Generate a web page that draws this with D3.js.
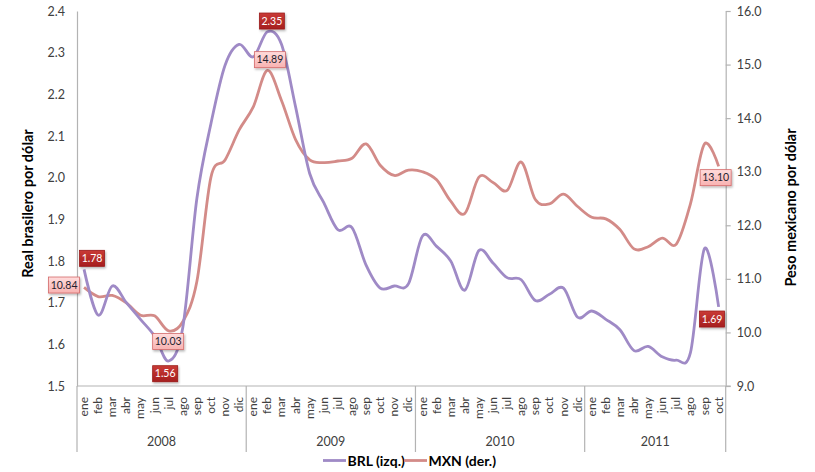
<!DOCTYPE html>
<html><head><meta charset="utf-8">
<script src="https://cdn.jsdelivr.net/npm/d3@7"></script>
<style>
html,body{margin:0;padding:0;background:#fff;}
svg{display:block;font-family:Lato, "Open Sans", sans-serif;}
</style></head>
<body>
<svg id="c" width="815" height="472"></svg>
<script>
// ---- data ----
const months = ["ene","feb","mar","abr","may","jun","jul","ago","sep","oct","nov","dic"];
const years = ["2008","2009","2010","2011"];
const monthsPerYear = [12,12,12,10];
const brl = [
  1.78,1.67,1.74,1.70,1.66,1.62,1.56,1.64,1.95,2.13,2.27,2.32,
  2.29,2.35,2.32,2.17,2.01,1.94,1.875,1.88,1.79,1.735,1.74,1.745,
  1.86,1.835,1.80,1.73,1.825,1.795,1.76,1.755,1.705,1.72,1.735,1.665,
  1.68,1.66,1.635,1.585,1.595,1.57,1.562,1.58,1.83,1.69
];
const mxn = [
  10.84,10.67,10.69,10.55,10.32,10.31,10.03,10.20,10.95,12.90,13.22,13.78,
  14.21,14.89,14.33,13.60,13.22,13.17,13.20,13.25,13.52,13.12,12.93,13.03,
  13.00,12.85,12.45,12.22,12.90,12.80,12.65,13.18,12.48,12.40,12.58,12.35,
  12.15,12.12,11.92,11.56,11.60,11.76,11.65,12.40,13.52,13.10
];
const leftTicks = [1.5,1.6,1.7,1.8,1.9,2.0,2.1,2.2,2.3,2.4];
const rightTicks = [9,10,11,12,13,14,15,16];
const seriesNames = ["BRL (izq.)","MXN (der.)"];
const leftTitle = "Real brasilero por dólar";
const rightTitle = "Peso mexicano por dólar";

// ---- build ----
const cats = [];
years.forEach((y,yi)=>{ for(let m=0;m<monthsPerYear[yi];m++) cats.push({year:y, month:months[m]}); });
const idx = d3.range(cats.length);

const L=77, R=725.7, T=11, B=386;
const svg = d3.select("#c");
const x = d3.scaleBand().domain(idx).range([L,R]).padding(0);
const bw = x.bandwidth();
const cx = i => x(i)+bw/2;
const yL = d3.scaleLinear().domain([1.5,2.4]).range([B,T]);
const yR = d3.scaleLinear().domain([9,16]).range([B,T]);

const axisCol = "#b3b3b3", textCol = "#404040";
const purple = "#9f8ac6", pink = "#d38b88";

// left axis
const gL = svg.append("g").attr("transform",`translate(${L},0)`)
  .call(d3.axisLeft(yL).tickValues(leftTicks).tickFormat(d3.format(".1f")).tickSize(0).tickPadding(12));
gL.select(".domain").attr("stroke",axisCol).attr("stroke-width",1.2);
gL.selectAll("text").attr("fill",textCol).style("font-size","12.5px").style("font-family","Lato, sans-serif");

// right axis
const gR = svg.append("g").attr("transform",`translate(${R},0)`)
  .call(d3.axisRight(yR).tickValues(rightTicks).tickFormat(d3.format(".1f")).tickSize(5).tickSizeOuter(0).tickPadding(6));
gR.select(".domain").attr("stroke",axisCol).attr("stroke-width",1.2);
gR.selectAll(".tick line").attr("stroke",axisCol).attr("stroke-width",1.2);
gR.selectAll("text").attr("fill",textCol).style("font-size","12.5px").style("font-family","Lato, sans-serif");

// category axis
const gX = svg.append("g");
gX.append("line").attr("x1",L).attr("x2",R+5).attr("y1",B).attr("y2",B).attr("stroke",axisCol).attr("stroke-width",1.2);
gX.selectAll("text.m").data(idx).join("text").attr("class","m")
  .attr("transform",i=>`translate(${cx(i)+4},${B+11}) rotate(-90)`)
  .attr("text-anchor","end").attr("fill",textCol)
  .style("font-size","12px").text(i=>cats[i].month);
// year groups
let start=0; const groups=[];
years.forEach((y,yi)=>{ groups.push({year:y, s:start, e:start+monthsPerYear[yi]-1}); start+=monthsPerYear[yi]; });
const seps = [L, ...groups.map(g=>x(g.e)+bw)];
gX.selectAll("line.sep").data(seps).join("line").attr("class","sep")
  .attr("x1",d=>d).attr("x2",d=>d).attr("y1",B).attr("y2",452)
  .attr("stroke",axisCol).attr("stroke-width",1.2);
gX.selectAll("text.y").data(groups).join("text").attr("class","y")
  .attr("x",g=>(x(g.s)+x(g.e)+bw)/2).attr("y",446).attr("text-anchor","middle")
  .attr("fill",textCol).style("font-size","12.5px").text(g=>g.year);

// axis titles
svg.append("text").attr("transform",`translate(33,${(T+B)/2+5}) rotate(-90)`)
  .attr("text-anchor","middle").attr("font-weight","bold").attr("fill","#000")
  .style("font-size","14.5px").text(leftTitle);
svg.append("text").attr("transform",`translate(796,${(T+B)/2+9}) rotate(-90)`)
  .attr("text-anchor","middle").attr("font-weight","bold").attr("fill","#000")
  .style("font-size","14.5px").text(rightTitle);

// lines
const curve = d3.curveCardinal.tension(0);
const lineL = d3.line().x(i=>cx(i)).y(i=>yL(brl[i])).curve(curve);
const lineR = d3.line().x(i=>cx(i)).y(i=>yR(mxn[i])).curve(curve);
svg.append("path").attr("d",lineR(idx)).attr("fill","none").attr("stroke",pink).attr("stroke-width",2.8).attr("stroke-linejoin","round");
svg.append("path").attr("d",lineL(idx)).attr("fill","none").attr("stroke",purple).attr("stroke-width",2.8).attr("stroke-linejoin","round");

// defs for labels
const defs = svg.append("defs");
const gr1 = defs.append("linearGradient").attr("id","gDark").attr("x1",0).attr("x2",0).attr("y1",0).attr("y2",1);
gr1.append("stop").attr("offset","0%").attr("stop-color","#c93a36");
gr1.append("stop").attr("offset","100%").attr("stop-color","#a61f1e");
const gr2 = defs.append("linearGradient").attr("id","gPink").attr("x1",0).attr("x2",0).attr("y1",0).attr("y2",1);
gr2.append("stop").attr("offset","0%").attr("stop-color","#ffdcdc");
gr2.append("stop").attr("offset","100%").attr("stop-color","#f8b2b1");
const sh = defs.append("filter").attr("id","sh").attr("x","-30%").attr("y","-30%").attr("width","160%").attr("height","170%");
sh.append("feDropShadow").attr("dx",1).attr("dy",1.5).attr("stdDeviation",1).attr("flood-color","#000").attr("flood-opacity",0.3);

function lab(series, i, dx, dy){
  const isB = series==="brl";
  const v = isB ? brl[i] : mxn[i];
  const px = cx(i), py = isB ? yL(v) : yR(v);
  const w = isB ? 25 : 31, h = 16;
  const g = svg.append("g").attr("transform",`translate(${px+dx},${py+dy})`);
  g.append("rect").attr("x",-w/2).attr("y",-h/2).attr("width",w).attr("height",h)
    .attr("fill", isB ? "url(#gDark)" : "url(#gPink)")
    .attr("stroke", isB ? "#9a1b1b" : "#d46a6a").attr("stroke-width",0.8)
    .attr("filter","url(#sh)");
  g.append("text").attr("text-anchor","middle").attr("dy","0.36em")
    .attr("fill", isB ? "#fff" : "#1f1f2f").style("font-size","10.5px")
    .text(d3.format(".2f")(v));
}
const last = cats.length-1;
const bMax = d3.maxIndex(brl), bMin = d3.minIndex(brl);
const mMax = d3.maxIndex(mxn), mMin = d3.minIndex(mxn);
lab("brl",0,8,-11);
lab("mxn",0,-20,-2.4);
lab("mxn",mMax,2.5,-10.8);
lab("brl",bMax,4.5,-10.8);
lab("mxn",mMin,-0.5,10.7);
lab("brl",bMin,-3.5,12.7);
lab("mxn",last,-3,11.3);
lab("brl",last,-6.6,12.2);

// legend
const leg = svg.append("g");
const items = [{name:seriesNames[0], c:purple, x:323},{name:seriesNames[1], c:pink, x:404}];
items.forEach(it=>{
  leg.append("line").attr("x1",it.x).attr("x2",it.x+23).attr("y1",460.5).attr("y2",460.5).attr("stroke",it.c).attr("stroke-width",2.8);
  leg.append("text").attr("x",it.x+24.5).attr("y",465.5).attr("font-weight","bold").attr("fill","#000")
    .style("font-size","14px").text(it.name);
});
</script>
</body></html>
